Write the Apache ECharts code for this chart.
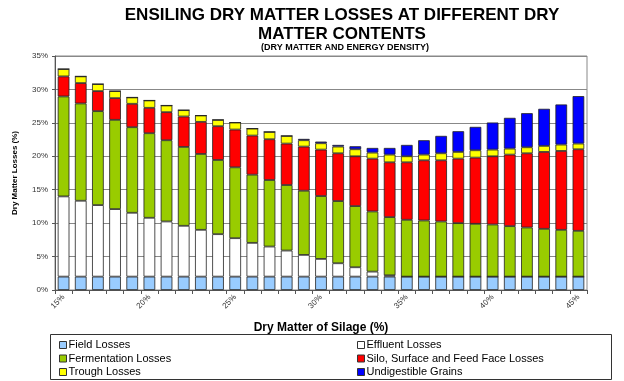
<!DOCTYPE html>
<html><head><meta charset="utf-8">
<script src="https://cdn.jsdelivr.net/npm/echarts@6/dist/echarts.min.js"></script>
<style>html,body{margin:0;padding:0;background:#fff}#c{width:624px;height:381px}</style>
</head><body><div id="c"></div>
<script>
const categories = ['15%','16%','17%','18%','19%','20%','21%','22%','23%','24%','25%','26%','27%','28%','29%','30%','31%','32%','33%','34%','35%','36%','37%','38%','39%','40%','41%','42%','43%','44%','45%'];
const fieldLosses = [2,2,2,2,2,2,2,2,2,2,2,2,2,2,2,2,2,2,2,2,2,2,2,2,2,2,2,2,2,2,2];
const effluentLosses = [12,11.35,10.7,10.1,9.55,8.8,8.25,7.6,7,6.35,5.75,5.05,4.5,3.9,3.25,2.65,2,1.4,0.75,0.2,0,0,0,0,0,0,0,0,0,0,0];
const fermentationLosses = [14.95,14.55,14.05,13.35,12.8,12.65,12.15,11.8,11.35,11.1,10.6,10.2,9.95,9.8,9.6,9.4,9.3,9.15,9,8.7,8.5,8.4,8.25,8,7.9,7.8,7.55,7.35,7.15,7,6.85];
const siloLosses = [3,3.05,3,3.25,3.5,3.8,4.2,4.55,4.8,5.05,5.65,5.85,6.1,6.2,6.6,6.95,7.15,7.45,7.9,8.2,8.6,9,9.15,9.65,9.9,10.2,10.7,11.1,11.5,11.8,12.2];
const troughLosses = [1.1,1,1.05,1.05,0.95,1.1,1,0.95,0.95,0.95,1.05,1.05,1.1,1.15,0.95,0.95,1,1.05,0.9,1.15,0.9,0.85,1.05,1,1.1,1,0.9,0.9,0.9,0.95,0.85];
const undigestibleGrains = [0,0,0,0,0,0,0,0,0,0,0,0,0,0,0.2,0.25,0.25,0.45,0.7,1,1.7,2.15,2.6,3.1,3.5,4.05,4.6,5.1,5.55,6,7.1];
const yTicks = {min:0, max:35, interval:5};

const seriesDefs = [
  ['Field Losses', fieldLosses, '#99CCFF'],
  ['Effluent Losses', effluentLosses, '#FFFFFF'],
  ['Fermentation Losses', fermentationLosses, '#99CC00'],
  ['Silo, Surface and Feed Face Losses', siloLosses, '#FF0000'],
  ['Trough Losses', troughLosses, '#FFFF00'],
  ['Undigestible Grains', undigestibleGrains, '#0000FF']
];
const font = 'Arial, "Liberation Sans", sans-serif';
const chart = echarts.init(document.getElementById('c'), null, {renderer:'canvas'});
const legendCommon = {
  orient:'vertical', itemWidth:7, itemHeight:7, itemGap:1.5, icon:'rect', height:80, padding:0,
  textStyle:{fontFamily:font, fontSize:11, color:'#000', padding:[0,0,0,-3], lineHeight:12},
  itemStyle:{borderColor:'#333', borderWidth:1}, selectedMode:false
};
chart.setOption({
  animation:false,
  backgroundColor:'#fff',
  title:[
    {text:'ENSILING DRY MATTER LOSSES AT DIFFERENT DRY\nMATTER CONTENTS', left:337, top:1, textAlign:'center',
     textStyle:{fontFamily:font, fontSize:17, fontWeight:'bold', color:'#000', lineHeight:19}},
    {text:'(DRY MATTER AND ENERGY DENSITY)', left:340, top:38, textAlign:'center',
     textStyle:{fontFamily:font, fontSize:9, fontWeight:'bold', color:'#000'}}
  ],
  grid:{left:55, right:37, top:56, bottom:91, show:true, borderColor:'#888', borderWidth:1},
  legend:[
    Object.assign({}, legendCommon, {left:59, top:339, data:['Field Losses','Fermentation Losses','Trough Losses']}),
    Object.assign({}, legendCommon, {left:357, top:339, data:['Effluent Losses','Silo, Surface and Feed Face Losses','Undigestible Grains']})
  ],
  graphic:[{type:'rect', shape:{x:50.5, y:334.5, width:561, height:45}, style:{fill:'none', stroke:'#333', lineWidth:1}}],
  xAxis:{
    type:'category', data:categories,
    name:'Dry Matter of Silage (%)', nameLocation:'middle', nameGap:32,
    nameTextStyle:{fontFamily:font, fontSize:12, fontWeight:'bold', color:'#000'},
    axisLine:{lineStyle:{color:'#555'}},
    axisTick:{show:true, interval:0, length:4, lineStyle:{color:'#555'}},
    axisLabel:{interval:4, rotate:45, fontFamily:font, fontSize:8, color:'#333', margin:6}
  },
  yAxis:{
    type:'value', min:yTicks.min, max:yTicks.max, interval:yTicks.interval,
    name:'Dry Matter Losses (%)', nameLocation:'middle', nameGap:36,
    nameTextStyle:{fontFamily:font, fontSize:8, fontWeight:'bold', color:'#000'},
    axisLine:{show:true, lineStyle:{color:'#555'}},
    axisTick:{show:true, length:3, lineStyle:{color:'#555'}},
    axisLabel:{formatter:'{value}%', fontFamily:font, fontSize:8, color:'#333', margin:7},
    splitLine:{lineStyle:{color:'#888', width:1}}
  },
  series: seriesDefs.map(([name, data, color]) => ({
    name, type:'bar', stack:'total', data, barCategoryGap:'32%',
    itemStyle:{color, borderColor:'#222', borderWidth:0.8}
  }))
});
</script></body></html>
